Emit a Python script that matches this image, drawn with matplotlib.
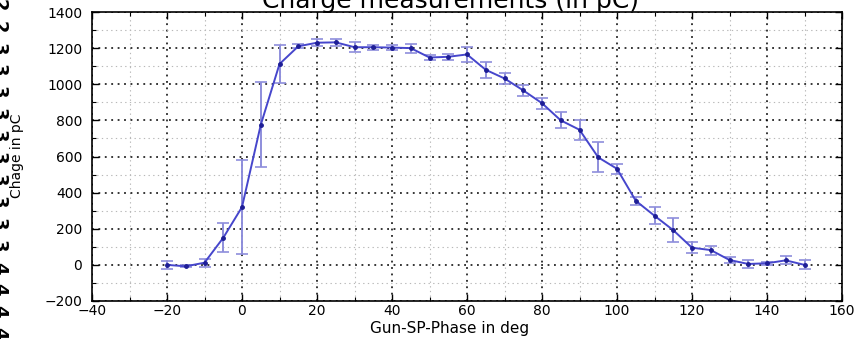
import numpy as np
import matplotlib
matplotlib.use('Agg')
import matplotlib.pyplot as plt
from matplotlib.ticker import MultipleLocator

plt.rcParams['font.family'] = ['DejaVu Sans']

# measured phase scan
phase = [-20, -15, -10, -5, 0, 5, 10, 15, 20, 25, 30, 35, 40, 45, 50, 55,
         60, 65, 70, 75, 80, 85, 90, 95, 100, 105, 110, 115, 120, 125, 130,
         135, 140, 145, 150]
charge = [0, -8, 12, 150, 320, 775, 1112, 1210, 1230, 1232, 1205, 1205, 1203,
          1200, 1148, 1152, 1165, 1080, 1032, 966, 895, 800, 748, 595, 532,
          355, 272, 192, 95, 82, 27, 5, 9, 25, 0]
charge_err = [22, 5, 22, 80, 260, 235, 105, 12, 20, 20, 28, 15, 15, 25, 12,
              15, 40, 45, 28, 30, 30, 44, 55, 83, 28, 22, 48, 67, 32, 25, 15,
              20, 8, 22, 25]

# stray glyphs of the neighbouring page at the left margin
margin_glyphs = ['2', '2', '3', '3', '3', '3', '3', '3', '3', '3', '3', '3',
                 '4', '4', '4', '4']

W, H = 857, 339
fig = plt.figure(figsize=(W / 100, H / 100), dpi=100)
ax = fig.add_axes([92 / W, 1 - 301 / H, 750 / W, 289 / H])

ax.errorbar(phase, charge, yerr=charge_err, color='#4646cc', lw=1.4,
            ecolor='#8e8edc', elinewidth=1.4, capsize=4.5, capthick=1.2,
            marker='.', ms=5, mfc='#1e1e96', mec='#1e1e96', zorder=3)

ax.set_xlim(-40, 160)
ax.set_ylim(-200, 1400)
ax.xaxis.set_major_locator(MultipleLocator(20))
ax.xaxis.set_minor_locator(MultipleLocator(10))
ax.yaxis.set_major_locator(MultipleLocator(200))
ax.yaxis.set_minor_locator(MultipleLocator(100))

ax.grid(which='major', color='black', linestyle=(0, (1.2, 3)), lw=1.1)
ax.grid(which='minor', color='#b8b8b8', linestyle=(0, (1.2, 3)), lw=0.8)
ax.set_axisbelow(True)

ax.tick_params(which='both', direction='in', top=True, right=True,
               labelsize=10, colors='black')
ax.tick_params(which='major', length=5, width=1)
ax.tick_params(which='minor', length=3, width=0.8)
ax.tick_params(axis='y', pad=7)
ax.tick_params(axis='x', pad=2.5)
for s in ax.spines.values():
    s.set_linewidth(1.2)

fig.text(451 / W, 1 - 8 / H, 'Charge measurements (in pC)', ha='center',
         va='baseline', fontsize=18)
fig.text(450 / W, 1 - 329 / H, 'Gun-SP-Phase in deg', ha='center',
         va='center', fontsize=11)
fig.text(17 / W, 1 - 156 / H, 'Chage in pC', rotation=90, ha='center',
         va='center', fontsize=10)

for i, g in enumerate(margin_glyphs):
    fig.text(8 / W, 1 - (5 + 21.9 * i) / H, g, rotation=-90, ha='right',
             va='center', fontsize=13, fontweight='bold')

fig.savefig('out.png', dpi=100)
